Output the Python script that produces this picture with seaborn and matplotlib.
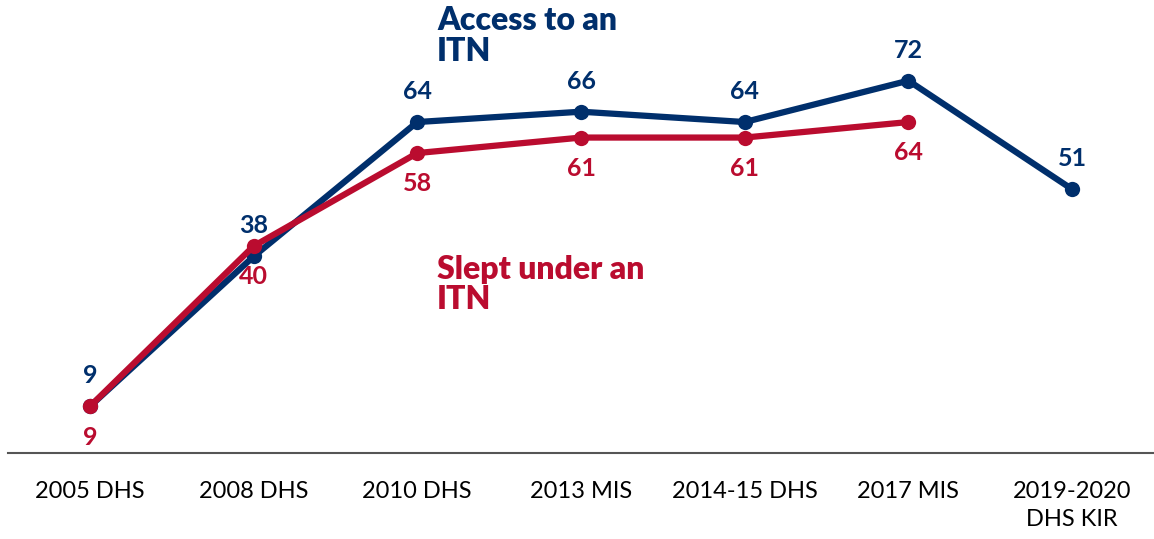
import numpy as np
import pandas as pd
import matplotlib
matplotlib.use("Agg")
import matplotlib.pyplot as plt
import seaborn as sns

surveys = ["2005 DHS", "2008 DHS", "2010 DHS", "2013 MIS", "2014-15 DHS", "2017 MIS", "2019-2020\nDHS KIR"]
access_itn = [9, 38, 64, 66, 64, 72, 51]
slept_itn = [9, 40, 58, 61, 61, 64, np.nan]

BLUE = "#002F6C"
RED = "#BA0C2F"

sns.set_theme(style="white")
plt.rcParams["font.family"] = ["Lato", "DejaVu Sans"]

df = pd.DataFrame({
    "survey": surveys * 2,
    "x": list(range(len(surveys))) * 2,
    "value": access_itn + slept_itn,
    "series": ["Access to an ITN"] * len(surveys) + ["Slept under an ITN"] * len(surveys),
})

fig = plt.figure(figsize=(11.54, 5.39), dpi=100)
ax = fig.add_axes([8 / 1154, 86 / 539, 1 - 8 / 1154, 453 / 539])

sns.lineplot(data=df, x="x", y="value", hue="series", palette=[BLUE, RED],
             marker="o", markersize=11, markeredgewidth=0, linewidth=4.5,
             legend=False, ax=ax)

# data labels: blue above, red below
for i, v in enumerate(access_itn):
    ax.annotate(f"{v}", (i, v), xytext=(0, 22), textcoords="offset points",
                ha="center", va="center", color=BLUE, fontsize=18, fontweight="bold")
for i, v in enumerate(slept_itn):
    if np.isnan(v):
        continue
    ax.annotate(f"{int(v)}", (i, v), xytext=(0, -22), textcoords="offset points",
                ha="center", va="center", color=RED, fontsize=18, fontweight="bold")

ax.text(2.12, 80.6, "Access to an\nITN", color=BLUE, fontsize=23, fontweight="heavy",
        ha="left", va="center", linespacing=1.07)
ax.text(2.12, 32.6, "Slept under an\nITN", color=RED, fontsize=23, fontweight="heavy",
        ha="left", va="center", linespacing=1.07)

ax.set_xlim(-0.5, 6.5)
ax.set_ylim(0, 87.6)
ax.set_xticks(range(len(surveys)))
ax.set_xticklabels(surveys, fontsize=17, color="black", linespacing=1.45)
ax.set_yticks([])
ax.tick_params(axis="x", length=0, pad=20)
ax.set_xlabel("")
ax.set_ylabel("")
for s in ["top", "right", "left"]:
    ax.spines[s].set_visible(False)
ax.spines["bottom"].set_color("#555555")
ax.spines["bottom"].set_linewidth(1.5)

fig.savefig("out.png", dpi=100)
